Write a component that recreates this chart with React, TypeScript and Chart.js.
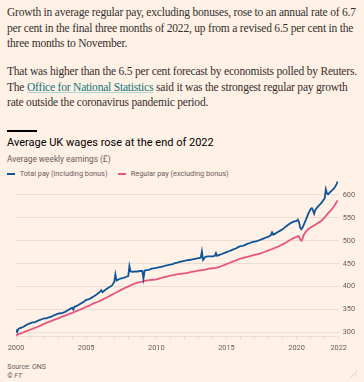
import React, { useEffect, useRef } from "react";
import { Chart, registerables } from "chart.js";

Chart.register(...registerables);

// ---- Data (months counted from Jan 2000 = 0) ----
const totalMonths = [
  0, 1, 2, 4, 6, 8, 10,
  12, 14, 16, 18, 20, 22,
  24, 26, 28, 30, 32, 34,
  36, 38, 40, 42, 44, 46,
  48, 49, 50, 52, 54, 56, 58,
  60, 62, 64, 66, 68, 70,
  72, 73, 74, 76, 78, 80, 82,
  84, 85, 86, 88, 90, 92, 94,
  96, 97, 98, 100, 102, 104, 106,
  108, 109, 110, 112, 114, 116, 118,
  120, 122, 124, 126, 128, 130,
  132, 134, 136, 138, 140, 142,
  144, 146, 148, 150, 152, 154,
  156, 158, 159, 160, 162, 164, 166,
  168, 170, 171, 172, 174, 176, 178,
  180, 182, 184, 186, 188, 190,
  192, 194, 196, 198, 200, 202,
  204, 206, 208, 210, 212, 214,
  216, 218, 219, 220, 222, 224, 226,
  228, 230, 232, 234, 236, 238,
  240, 241, 242, 243, 244, 245, 246, 248, 250,
  252, 253, 254, 255, 256, 258, 260, 262,
  263, 264, 265, 266, 267, 268, 270, 272, 274, 275,
];
const totalPay = [
  306, 301, 308, 310, 312, 315, 318,
  320, 322, 322, 325, 327, 329,
  331, 331, 333, 334, 337, 339,
  341, 342, 343, 345, 348, 351,
  354, 350, 356, 358, 361, 364, 367,
  371, 372, 375, 378, 381, 385,
  389, 392, 388, 392, 396, 399, 402,
  410, 427, 413, 416, 418, 419, 421,
  423, 445, 433, 432, 433, 433, 434,
  434, 417, 435, 436, 437, 439, 440,
  441, 442, 443, 444, 446, 447,
  448, 449, 451, 452, 454, 455,
  456, 457, 458, 459, 460, 461,
  462, 463, 477, 458, 465, 466, 466,
  466, 467, 473, 467, 469, 471, 473,
  475, 477, 479, 481, 483, 486,
  488, 489, 491, 493, 495, 497,
  498, 499, 501, 503, 505, 507,
  509, 512, 518, 513, 516, 519, 522,
  525, 529, 533, 537, 540, 542,
  543, 546, 541, 529, 525, 528, 534, 546, 559,
  569, 571, 566, 559, 567, 574, 579, 585,
  589, 592, 612, 603, 601, 604, 609, 614, 622, 629,
];

const regularMonths = [
  0, 3, 6, 9, 12, 15, 18, 21, 24, 27, 30, 33,
  36, 39, 42, 45, 48, 51, 54, 57, 60, 63, 66, 69,
  72, 75, 78, 81, 84, 87, 90, 93, 96, 99, 102, 105,
  108, 111, 114, 117, 120, 123, 126, 129, 132, 135, 138, 141,
  144, 147, 150, 153, 156, 159, 162, 165, 168, 171, 174, 177,
  180, 183, 186, 189, 192, 195, 198, 201, 204, 207, 210, 213,
  216, 219, 222, 225, 228, 231, 234, 237, 240, 241, 242, 243,
  244, 245, 246, 248, 250, 252, 255, 258, 261, 264, 267, 270,
  273, 275,
];
const regularPay = [
  294, 297, 300, 303, 306, 309, 312, 315, 319, 322, 325, 328,
  331, 334, 337, 340, 343, 346, 349, 352, 356, 359, 363, 366,
  369, 373, 377, 381, 385, 389, 393, 397, 400, 404, 407, 409,
  411, 413, 414, 415, 416, 418, 420, 422, 424, 425, 427, 428,
  429, 430, 432, 433, 435, 436, 437, 439, 440, 441, 443, 446,
  449, 452, 455, 458, 461, 463, 465, 467, 469, 471, 473, 476,
  479, 482, 485, 488, 492, 496, 501, 505, 508, 510, 510, 503,
  500, 504, 512, 520, 525, 529, 533, 538, 543, 551, 560, 568,
  579, 588,
];

const yTickValues = [300, 350, 400, 450, 500, 550, 600];
const xTickYears = [
  2000, 2001, 2002, 2003, 2004, 2005, 2006, 2007, 2008, 2009, 2010, 2011,
  2012, 2013, 2014, 2015, 2016, 2017, 2018, 2019, 2020, 2021, 2022, 2023,
];
const xLabelYears = [2000, 2005, 2010, 2015, 2020, 2023];
const xLabelTexts = ["2000", "2005", "2010", "2015", "2020", "2022"];

const seriesNames = ["Total pay (including bonus)", "Regular pay (excluding bonus)"];

// ---- Styles ----
const BG = "#FFF1E5";
const BLUE = "#0F5499";
const PINK = "#E8557F";
const GRID = "#EADDD2";
const GREY = "#66605C";
const TEXT = "#33302E";
const SANS = "Roboto, 'Noto Sans', sans-serif";

export default function App() {
  const ref = useRef<HTMLCanvasElement>(null);

  useEffect(() => {
    if (!ref.current) return;
    const chart = new Chart(ref.current, {
      type: "line",
      data: {
        datasets: [
          {
            label: seriesNames[0],
            data: totalMonths.map((m, i) => ({ x: 2000 + m / 12, y: totalPay[i] })),
            borderColor: BLUE,
            borderWidth: 1.8,
            pointRadius: 0,
            tension: 0,
          },
          {
            label: seriesNames[1],
            data: regularMonths.map((m, i) => ({ x: 2000 + m / 12, y: regularPay[i] })),
            borderColor: PINK,
            borderWidth: 1.8,
            pointRadius: 0,
            tension: 0,
          },
        ],
      },
      options: {
        animation: false,
        responsive: false,
        maintainAspectRatio: false,
        layout: { padding: { left: 16, top: 0, right: 0, bottom: 0 } },
        plugins: {
          legend: { display: false },
          tooltip: { enabled: false },
        },
        scales: {
          x: {
            type: "linear",
            position: "bottom",
            min: 2000,
            max: 2023,
            afterBuildTicks: (s: any) => {
              s.ticks = xTickYears.map((v) => ({ value: v }));
            },
            afterFit: (s: any) => {
              s.height = 21.8;
              s.paddingLeft = 0;
              s.paddingRight = 0;
            },
            ticks: {
              autoSkip: false,
              maxRotation: 0,
              padding: 3.5,
              color: GREY,
              font: { size: 7.4, family: SANS },
              callback: (v: any) => {
                const i = xLabelYears.indexOf(Number(v));
                return i >= 0 ? xLabelTexts[i] : "";
              },
            },
            grid: { drawOnChartArea: false, drawTicks: true, tickLength: 4, color: GRID },
            border: { display: true, color: GRID },
          },
          y: {
            type: "linear",
            position: "right",
            min: 292,
            max: 641,
            afterBuildTicks: (s: any) => {
              s.ticks = yTickValues.map((v) => ({ value: v }));
            },
            afterFit: (s: any) => {
              s.width = 25.3;
              s.paddingTop = 0;
              s.paddingBottom = 0;
            },
            ticks: {
              padding: 4,
              color: GREY,
              font: { size: 7.4, family: SANS },
              callback: (v: any) => String(v),
            },
            grid: { color: GRID, drawTicks: false },
            border: { display: false },
          },
        },
      },
    });
    return () => chart.destroy();
  }, []);

  const para: React.CSSProperties = {
    position: "absolute",
    left: 7,
    fontFamily: "'Liberation Serif', serif",
    fontSize: 11.5,
    letterSpacing: -0.2,
    lineHeight: "15.3px",
    color: TEXT,
    whiteSpace: "nowrap",
    margin: 0,
  };

  return (
    <div style={{ position: "relative", width: 364, height: 382, background: BG, overflow: "hidden" }}>
      <style>{`html,body{margin:0;padding:0;background:${BG};}`}</style>
      <div style={{ ...para, top: 5.4 }}>
        Growth in average regular pay, excluding bonuses, rose to an annual rate of 6.7
        <br />
        per cent in the final three months of 2022, up from a revised 6.5 per cent in the
        <br />
        three months to November.
      </div>
      <div style={{ ...para, top: 64.4 }}>
        That was higher than the 6.5 per cent forecast by economists polled by Reuters.
        <br />
        The{" "}
        <span
          style={{
            color: "#0D7680",
            textDecoration: "underline",
            textDecorationColor: "#B9D3D0",
          }}
        >
          Office for National Statistics
        </span>{" "}
        said it was the strongest regular pay growth
        <br />
        rate outside the coronavirus pandemic period.
      </div>

      <div style={{ position: "absolute", left: 7, top: 130, width: 30, height: 2, background: "#000" }} />
      <div
        style={{
          position: "absolute",
          left: 7,
          top: 135.7,
          fontFamily: SANS,
          fontSize: 11,
          lineHeight: "14px",
          color: "#000",
          whiteSpace: "nowrap",
        }}
      >
        Average UK wages rose at the end of 2022
      </div>
      <div
        style={{
          position: "absolute",
          left: 7,
          top: 154,
          fontFamily: SANS,
          fontSize: 8.3,
          lineHeight: "10px",
          color: GREY,
          whiteSpace: "nowrap",
        }}
      >
        Average weekly earnings (£)
      </div>
      <div
        style={{
          position: "absolute",
          left: 7,
          top: 168.7,
          fontFamily: SANS,
          fontSize: 7.3,
          lineHeight: "10px",
          color: GREY,
          whiteSpace: "nowrap",
          display: "flex",
          alignItems: "center",
        }}
      >
        <span style={{ display: "inline-block", width: 8.4, height: 2, background: BLUE, marginRight: 4.3 }} />
        <span style={{ width: 98.4 }}>{seriesNames[0]}</span>
        <span style={{ display: "inline-block", width: 8, height: 2, background: PINK, marginRight: 4.7 }} />
        <span>{seriesNames[1]}</span>
      </div>

      <canvas
        ref={ref}
        width={364}
        height={182}
        style={{ position: "absolute", left: 0, top: 176, width: 364, height: 182 }}
      />

      <div
        style={{
          position: "absolute",
          left: 7.3,
          top: 362.5,
          fontFamily: SANS,
          fontSize: 6.9,
          lineHeight: "9px",
          color: GREY,
          whiteSpace: "nowrap",
        }}
      >
        Source: ONS
        <br />
        <i>© FT</i>
      </div>

      <svg
        width={6}
        height={6}
        style={{ position: "absolute", left: 351, top: 371 }}
        viewBox="0 0 6 6"
      >
        <path d="M6 0 L0 6 M6 3 L3 6" stroke="#CFC6BE" strokeWidth={0.8} fill="none" />
      </svg>
    </div>
  );
}
